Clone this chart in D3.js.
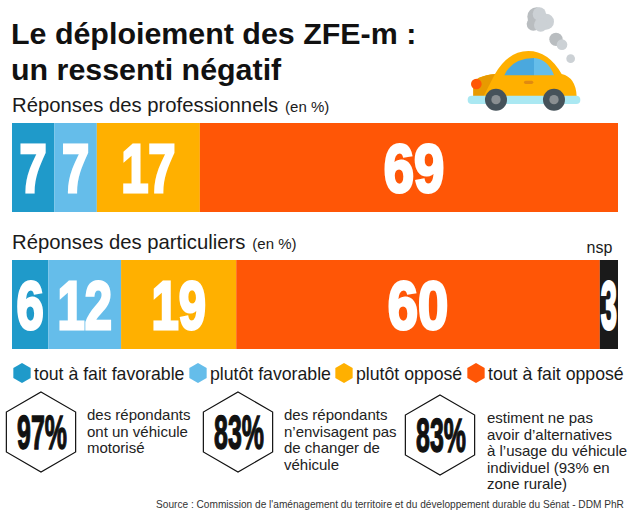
<!DOCTYPE html>
<html><head><meta charset="utf-8">
<script src="https://cdn.jsdelivr.net/npm/d3@7"></script>
<style>html,body{margin:0;padding:0;background:#fff}svg{display:block}text{font-family:"Liberation Sans",Arial,sans-serif}</style>
</head><body><div id="c"></div>
<script>
const categories=["tout à fait favorable","plutôt favorable","plutôt opposé","tout à fait opposé","nsp"];
const colors=["#1f9aca","#65bdea","#ffb000","#ff5606","#1a1a1a"];
const professionnels=[7,7,17,69,0];
const particuliers=[6,12,19,60,3];
const titleLines=["Le déploiement des ZFE-m :","un ressenti négatif"];
const stats=["97%","83%","83%"];
const statTexts=[["des répondants","ont un véhicule","motorisé"],["des répondants","n’envisagent pas","de changer de","véhicule"],["estiment ne pas","avoir d’alternatives","à l’usage du véhicule","individuel (93% en","zone rurale)"]];
const source="Source : Commission de l'aménagement du territoire et du développement durable du Sénat - DDM PhR";

const svg=d3.select("#c").append("svg").attr("width",637).attr("height",520);
const x=d3.scaleLinear().domain([0,100]).range([12,618]);
const hex=(cx,cy,r)=>d3.range(6).map(i=>{const a=Math.PI/3*i;return [cx+r*Math.sin(a),cy-r*Math.cos(a)]}).join(" ");

svg.selectAll("text.t").data(titleLines).join("text").attr("class","t").attr("x",11).attr("y",(d,i)=>43.5+i*36)
  .attr("font-size",30.4).attr("font-weight",700).attr("fill","#111").text(d=>d);

function bar(vals,y0,h,label){
  const g=svg.append("g");
  const t=g.append("text").attr("x",12).attr("y",y0-11).attr("fill","#1a1a1a");
  t.append("tspan").attr("font-size",20.3).text(label);
  t.append("tspan").attr("font-size",15).attr("dx",7).text("(en %)");
  let c=0;
  vals.forEach((v,i)=>{
    if(!v)return;
    const a=x(c),b=x(c+v);c+=v;
    g.append("rect").attr("x",a).attr("y",y0).attr("width",b-a).attr("height",h).attr("fill",colors[i]);
    const digits=String(v).length;
    const sc=Math.min(v>=60?.8:.72,(b-a-1)/(digits*40));
    const cx=(a+b)/2+(v>60?5:0);
    g.append("text").attr("transform",`translate(${cx},${y0+69}) scale(${sc},1)`).attr("text-anchor","middle")
      .attr("font-size",68).attr("font-weight",700).attr("fill","#fff").attr("stroke","#fff").attr("stroke-width",3).text(v);
  });
}
bar(professionnels,123,89,"Réponses des professionnels");
bar(particuliers,260,89,"Réponses des particuliers");
svg.append("text").attr("x",599.5).attr("y",253).attr("text-anchor","middle").attr("font-size",16).attr("fill","#1a1a1a").text(categories[4]);

const lx=[22,198,344,476];
categories.slice(0,4).forEach((d,i)=>{
  svg.append("polygon").attr("points",hex(lx[i],373,10)).attr("fill",colors[i]);
  svg.append("text").attr("x",lx[i]+12).attr("y",380).attr("font-size",17.7).attr("fill","#1a1a1a").text(d);
});

const sx=[41,238,440],sy=[432,432,435],tx=[87,284,487],ty=[420,420,423];
stats.forEach((s,i)=>{
  svg.append("polygon").attr("points",hex(sx[i],sy[i],40)).attr("fill","#fff").attr("stroke","#111").attr("stroke-width",1.2);
  svg.append("text").attr("transform",`translate(${sx[i]+1},${sy[i]+16.5}) scale(.52,1)`).attr("text-anchor","middle")
    .attr("font-size",48).attr("font-weight",700).attr("fill","#111").attr("stroke","#111").attr("stroke-width",1.4).text(s);
  statTexts[i].forEach((l,j)=>svg.append("text").attr("x",tx[i]).attr("y",ty[i]+j*16.6).attr("font-size",15).attr("fill","#222").text(l));
});
svg.append("text").attr("x",156).attr("y",508).attr("font-size",10.15).attr("fill","#333").text(source);

// car icon
const car=svg.append("g").attr("transform","translate(440,0) scale(.3333)");
car.selectAll("circle.s").data([[290,50,28,"#b9bdc0"],[280,72,20,"#b9bdc0"],[318,65,24,"#ccd1d5"],[298,42,20,"#ccd1d5"],[302,75,20,"#ccd1d5"],[348,118,20,"#b9bdc0"],[366,134,16,"#ccd1d5"],[392,176,13,"#ccd1d5"]])
  .join("circle").attr("class","s").attr("cx",d=>d[0]).attr("cy",d=>d[1]).attr("r",d=>d[2]).attr("fill",d=>d[3]);
car.append("path").attr("d","M100 290 L100 250 Q110 228 165 222 Q205 153 265 153 Q325 153 365 222 Q408 232 410 290 Z").attr("fill","#ffb000");
car.append("path").attr("d","M100 290 L100 250 Q110 228 165 222 L130 290 Z").attr("fill","#e89a00");
car.append("path").attr("d","M193 226 Q215 175 282 174 L282 226 Z").attr("fill","#4aa8de");
car.append("path").attr("d","M282 174 Q325 178 342 226 L282 226 Z").attr("fill","#65bdea");
car.append("rect").attr("x",252).attr("y",242).attr("width",28).attr("height",10).attr("rx",5).attr("fill","#e08a10");
car.append("circle").attr("cx",109).attr("cy",252).attr("r",16).attr("fill","#ff5606");
car.append("rect").attr("x",83).attr("y",287).attr("width",338).attr("height",25).attr("rx",12).attr("fill","#aae8f2");
[168,342].forEach(cx=>{
  car.append("circle").attr("cx",cx).attr("cy",299).attr("r",33).attr("fill","#46525a");
  car.append("circle").attr("cx",cx).attr("cy",299).attr("r",14).attr("fill","#8a8f92");
});
</script></body></html>
